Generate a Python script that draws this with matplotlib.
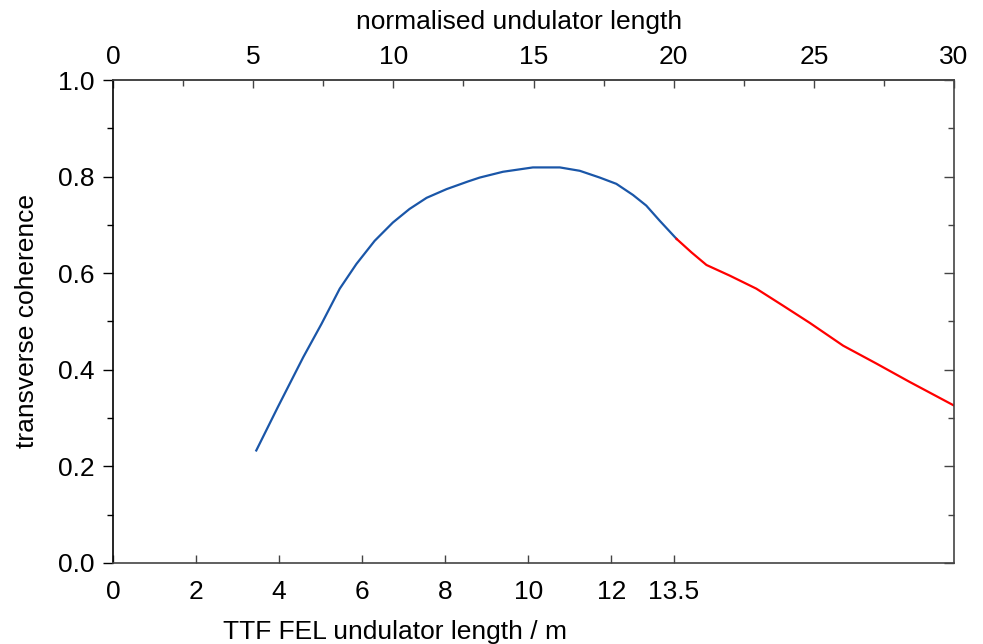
import numpy as np
import matplotlib
matplotlib.use("Agg")
import matplotlib.pyplot as plt
from matplotlib.ticker import MultipleLocator, FixedLocator

plt.rcParams['font.family'] = ['Liberation Sans', 'DejaVu Sans']
plt.rcParams['font.size'] = 19

# undulator length in m vs transverse coherence
blue_x = [3.45, 3.97, 4.58, 5.02, 5.46, 5.86, 6.30, 6.74, 7.14, 7.55, 8.03,
          8.55, 8.83, 9.39, 10.11, 10.76, 11.24, 11.72, 12.12, 12.52, 12.84,
          13.16, 13.57]
blue_y = [0.233, 0.323, 0.426, 0.495, 0.568, 0.619, 0.667, 0.705, 0.733, 0.756,
          0.774, 0.790, 0.798, 0.810, 0.819, 0.819, 0.812, 0.798, 0.785, 0.762,
          0.740, 0.709, 0.671]
red_x = [13.57, 13.93, 14.29, 14.85, 15.49, 16.13, 16.78, 17.58, 18.38, 19.18, 20.25]
red_y = [0.671, 0.643, 0.617, 0.595, 0.568, 0.533, 0.497, 0.450, 0.413, 0.375, 0.326]

bottom_ticks = [0, 2, 4, 6, 8, 10, 12, 13.5]
bottom_labels = ["0", "2", "4", "6", "8", "10", "12", "13.5"]
top_ticks = [0, 5, 10, 15, 20, 25, 30]

scale = 20 / 13.5  # normalised length per metre

def m2n(x):
    return x * scale

def n2m(x):
    return x / scale

fig = plt.figure(figsize=(9.83, 6.44), dpi=100)
ax = fig.add_axes([113 / 983, 1 - 563 / 644, 841 / 983, 483 / 644])

ax.plot(blue_x, blue_y, color='#1a56a8', lw=1.6)
ax.plot(red_x, red_y, color='#ff0000', lw=1.6)

ax.set_xlim(0, 30 / scale)
ax.set_ylim(0, 1.0)

spine_col = '#444444'
for s in ax.spines.values():
    s.set_color(spine_col)
    s.set_linewidth(1.2)
ax.spines['left'].set_color('black')

ax.set_xticks(bottom_ticks)
ax.set_xticklabels(bottom_labels)
ax.set_yticks(np.arange(0, 1.01, 0.2))
ax.set_yticklabels(["0.0", "0.2", "0.4", "0.6", "0.8", "1.0"])
ax.yaxis.set_minor_locator(MultipleLocator(0.1))
ax.tick_params(axis='x', direction='in', length=6, width=1, color=spine_col, pad=12)
ax.tick_params(axis='y', which='major', direction='out', length=7, width=1, pad=6)
ax.tick_params(axis='y', which='minor', direction='out', length=4, width=1)

# right side ticks point inward
axr = ax.twinx()
axr.set_ylim(0, 1.0)
axr.set_yticks(np.arange(0, 1.01, 0.2))
axr.yaxis.set_minor_locator(MultipleLocator(0.1))
axr.set_yticklabels([])
axr.tick_params(axis='y', which='major', direction='in', length=7, width=1, color=spine_col)
axr.tick_params(axis='y', which='minor', direction='in', length=4, width=1, color=spine_col)
for s in axr.spines.values():
    s.set_visible(False)

sec = ax.secondary_xaxis('top', functions=(m2n, n2m))
sec.xaxis.set_major_locator(FixedLocator(top_ticks))
sec.xaxis.set_minor_locator(MultipleLocator(2.5))
sec.tick_params(which='major', direction='in', length=6, width=1, color=spine_col, pad=8)
sec.tick_params(which='minor', direction='in', length=4, width=1, color=spine_col)
sec.spines['top'].set_color(spine_col)
sec.spines['top'].set_linewidth(1.2)

ax.text(0.483, 1.095, "normalised undulator length", transform=ax.transAxes,
        ha='center', va='bottom')

ax.set_xlabel("TTF FEL undulator length / m")
ax.xaxis.set_label_coords(0.335, -0.117)
ax.set_ylabel("transverse coherence")
ax.yaxis.set_label_coords(-0.088, 0.5)

fig.savefig("out.png", dpi=100)
